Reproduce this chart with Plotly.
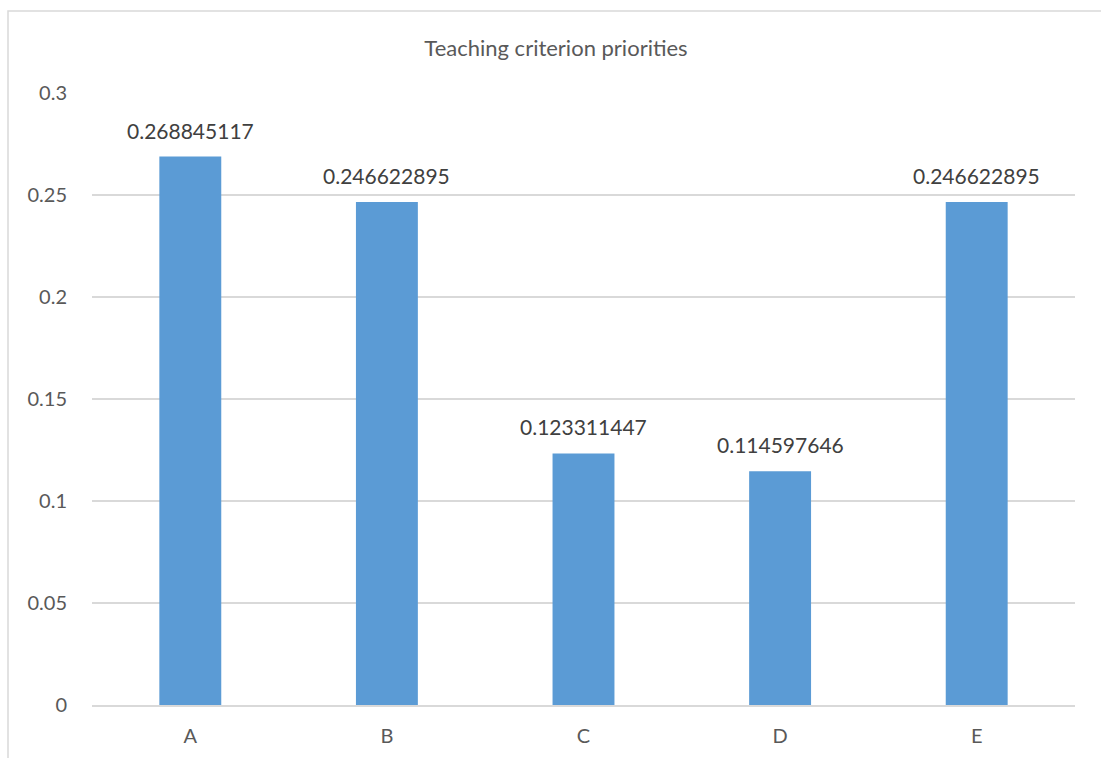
import plotly.graph_objects as go

# Chart data
categories = ["A", "B", "C", "D", "E"]
priorities = [0.268845117, 0.246622895, 0.123311447, 0.114597646, 0.246622895]
y_ticks = [0, 0.05, 0.1, 0.15, 0.2, 0.25, 0.3]
y_tick_labels = ["0", "0.05", "0.1", "0.15", "0.2", "0.25", "0.3"]

W, H = 1101, 758
L, R, T, B = 92, 26, 93, 53
plot_w = W - L - R
plot_h = H - T - B

FONT = "Lato"
BAR = "#5B9BD5"
GRID = "#D9D9D9"

fig = go.Figure()
fig.add_trace(go.Bar(
    x=categories,
    y=priorities,
    marker=dict(color=BAR, line=dict(width=0)),
    width=0.315,
    hoverinfo="x+y",
))

# value labels above each bar
for c, v in zip(categories, priorities):
    fig.add_annotation(
        x=c, y=v, text=f"{v:.9f}", showarrow=False,
        yanchor="bottom", yshift=12,
        font=dict(family=FONT, size=21, color="#404040"),
    )

# outer chart border (extends past the right and bottom edges)
fig.add_shape(
    type="rect", xref="paper", yref="paper",
    x0=(8 - L) / plot_w, x1=(W + 20 - L) / plot_w,
    y0=-(H + 20 - (T + plot_h)) / plot_h, y1=(T + plot_h - 11) / plot_h,
    line=dict(color=GRID, width=1.5), fillcolor="rgba(0,0,0,0)", layer="below",
)

fig.update_layout(
    width=W, height=H,
    margin=dict(l=L, r=R, t=T, b=B),
    paper_bgcolor="white", plot_bgcolor="white",
    showlegend=False,
    title=dict(
        text="Teaching criterion priorities",
        x=556 / W, xanchor="center",
        y=1 - 48 / H, yanchor="middle",
        font=dict(family=FONT, size=22, color="#595959"),
    ),
    xaxis=dict(
        showgrid=False, showline=True, linecolor=GRID, linewidth=1.5,
        ticks="", tickfont=dict(family=FONT, size=20, color="#595959"),
        ticklabelstandoff=12,
    ),
    yaxis=dict(
        range=[0, 0.3], tickvals=y_ticks, ticktext=y_tick_labels,
        showgrid=True, gridcolor=GRID, gridwidth=1.5,
        zeroline=False, showline=False, ticks="",
        tickfont=dict(family=FONT, size=20, color="#595959"),
        ticklabelstandoff=24,
    ),
)

fig.write_html("out.html")
